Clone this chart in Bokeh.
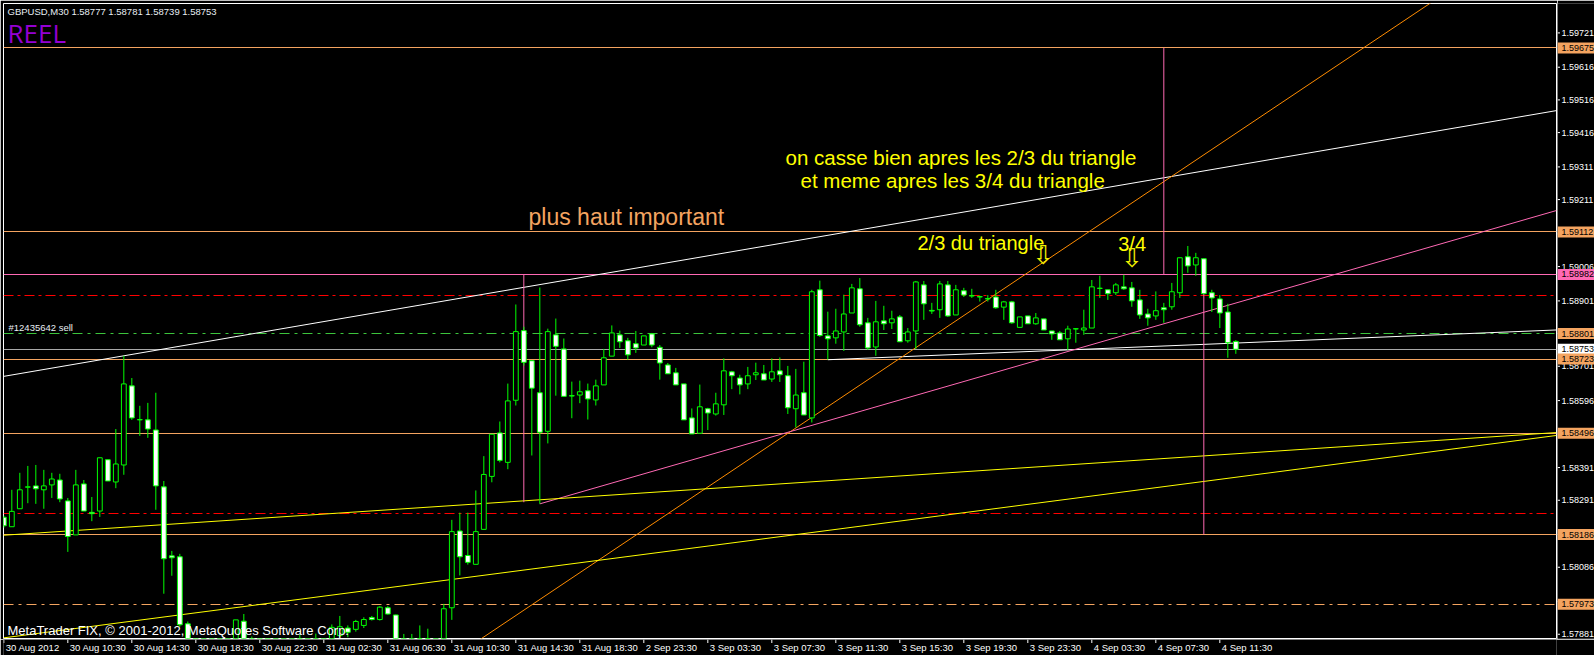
import numpy as np
from bokeh.plotting import figure
from bokeh.layouts import row, column
from bokeh.models import Range1d, ColumnDataSource, Label
from bokeh.core.properties import value
from bokeh.embed import file_html
from bokeh.resources import INLINE

# ---------------- GBPUSD M30 candles (bar 0 = 30 Aug 06:30) ----------------
open_ = [
    1.58239, 1.58210, 1.58265, 1.58331, 1.58335, 1.58323, 1.58338, 1.58353, 1.58289, 1.58185,
    1.58341, 1.58254, 1.58258, 1.58415, 1.58347, 1.58399, 1.58641, 1.58537, 1.58537, 1.58506,
    1.58332, 1.58121, 1.58118, 1.57913, 1.57846, 1.57816, 1.57831, 1.57800, 1.57825, 1.57855,
    1.57921, 1.57846, 1.57831, 1.57794, 1.57770, 1.57788, 1.57816, 1.57837, 1.57825, 1.57843,
    1.57858, 1.57849, 1.57877, 1.57900, 1.57896, 1.57908, 1.57932, 1.57926, 1.57962, 1.57940,
    1.57837, 1.57816, 1.57846, 1.57868, 1.57849, 1.57858, 1.57962, 1.58197, 1.58122, 1.58095,
    1.58202, 1.58364, 1.58497, 1.58407, 1.58597, 1.58810, 1.58718, 1.58620, 1.58502, 1.58797,
    1.58754, 1.58611, 1.58613, 1.58626, 1.58598, 1.58644, 1.58732, 1.58797, 1.58779, 1.58770,
    1.58766, 1.58800, 1.58759, 1.58705, 1.58681, 1.58647, 1.58543, 1.58496, 1.58571, 1.58555,
    1.58583, 1.58684, 1.58665, 1.58647, 1.58675, 1.58678, 1.58662, 1.58687, 1.58672, 1.58571,
    1.58620, 1.58543, 1.58935, 1.58794, 1.58788, 1.58806, 1.58864, 1.58938, 1.58834, 1.58760,
    1.58840, 1.58834, 1.58852, 1.58779, 1.58809, 1.58950, 1.58872, 1.58874, 1.58950, 1.58858,
    1.58932, 1.58917, 1.58914, 1.58908, 1.58913, 1.58882, 1.58898, 1.58820, 1.58855, 1.58831,
    1.58846, 1.58809, 1.58803, 1.58785, 1.58815, 1.58812, 1.58818, 1.58939, 1.58935, 1.58926,
    1.58944, 1.58941, 1.58904, 1.58861, 1.58855, 1.58880, 1.58883, 1.58926, 1.59036, 1.59011,
    1.59030, 1.58926, 1.58907, 1.58867, 1.58777,
]
high = [
    1.58244, 1.58323, 1.58375, 1.58396, 1.58399, 1.58384, 1.58375, 1.58372, 1.58298, 1.58384,
    1.58353, 1.58301, 1.58421, 1.58415, 1.58509, 1.58733, 1.58665, 1.58580, 1.58589, 1.58620,
    1.58350, 1.58136, 1.58127, 1.57920, 1.57862, 1.57846, 1.57852, 1.57837, 1.57862, 1.57925,
    1.57943, 1.57874, 1.57846, 1.57816, 1.57800, 1.57831, 1.57855, 1.57880, 1.57862, 1.57883,
    1.57865, 1.57911, 1.57937, 1.57908, 1.57925, 1.57933, 1.57937, 1.57967, 1.57967, 1.57941,
    1.57882, 1.57882, 1.57908, 1.57898, 1.57862, 1.57974, 1.58231, 1.58253, 1.58253, 1.58321,
    1.58426, 1.58493, 1.58532, 1.58648, 1.58890, 1.58822, 1.58718, 1.58942, 1.58816, 1.58847,
    1.58786, 1.58654, 1.58657, 1.58648, 1.58660, 1.58754, 1.58826, 1.58810, 1.58788, 1.58809,
    1.58794, 1.58803, 1.58766, 1.58711, 1.58696, 1.58647, 1.58572, 1.58645, 1.58574, 1.58620,
    1.58725, 1.58687, 1.58675, 1.58699, 1.58712, 1.58705, 1.58725, 1.58728, 1.58702, 1.58693,
    1.58715, 1.58935, 1.58963, 1.58868, 1.58877, 1.58920, 1.58953, 1.58971, 1.58849, 1.58901,
    1.58886, 1.58871, 1.58858, 1.58818, 1.58962, 1.58962, 1.58895, 1.58962, 1.58962, 1.58950,
    1.58941, 1.58938, 1.58917, 1.58919, 1.58935, 1.58901, 1.58901, 1.58852, 1.58855, 1.58864,
    1.58846, 1.58809, 1.58809, 1.58825, 1.58818, 1.58874, 1.58965, 1.58978, 1.58935, 1.58956,
    1.58981, 1.58959, 1.58935, 1.58877, 1.58930, 1.58895, 1.58956, 1.59033, 1.59069, 1.59048,
    1.59030, 1.58935, 1.58919, 1.58892, 1.58781,
]
low = [
    1.58207, 1.58210, 1.58265, 1.58282, 1.58280, 1.58265, 1.58298, 1.58285, 1.58133, 1.58185,
    1.58258, 1.58227, 1.58240, 1.58350, 1.58328, 1.58369, 1.58537, 1.58488, 1.58482, 1.58262,
    1.58005, 1.58060, 1.57904, 1.57831, 1.57800, 1.57785, 1.57776, 1.57770, 1.57806, 1.57846,
    1.57831, 1.57800, 1.57776, 1.57745, 1.57739, 1.57776, 1.57800, 1.57806, 1.57813, 1.57831,
    1.57825, 1.57840, 1.57871, 1.57872, 1.57889, 1.57900, 1.57923, 1.57923, 1.57941, 1.57825,
    1.57800, 1.57806, 1.57837, 1.57831, 1.57825, 1.57846, 1.57925, 1.58061, 1.58094, 1.58095,
    1.58202, 1.58346, 1.58407, 1.58386, 1.58581, 1.58703, 1.58428, 1.58280, 1.58465, 1.58611,
    1.58609, 1.58542, 1.58588, 1.58538, 1.58581, 1.58644, 1.58732, 1.58757, 1.58721, 1.58742,
    1.58766, 1.58759, 1.58660, 1.58678, 1.58644, 1.58537, 1.58494, 1.58496, 1.58506, 1.58550,
    1.58552, 1.58631, 1.58615, 1.58631, 1.58659, 1.58659, 1.58653, 1.58653, 1.58555, 1.58514,
    1.58552, 1.58529, 1.58791, 1.58721, 1.58770, 1.58748, 1.58864, 1.58822, 1.58751, 1.58733,
    1.58812, 1.58815, 1.58776, 1.58773, 1.58754, 1.58843, 1.58861, 1.58849, 1.58852, 1.58858,
    1.58913, 1.58910, 1.58899, 1.58899, 1.58877, 1.58843, 1.58831, 1.58820, 1.58831, 1.58828,
    1.58812, 1.58782, 1.58782, 1.58751, 1.58773, 1.58797, 1.58818, 1.58910, 1.58904, 1.58919,
    1.58935, 1.58883, 1.58846, 1.58825, 1.58843, 1.58834, 1.58874, 1.58910, 1.58987, 1.58978,
    1.58923, 1.58867, 1.58818, 1.58727, 1.58739,
]
close = [
    1.58213, 1.58257, 1.58323, 1.58332, 1.58326, 1.58335, 1.58356, 1.58295, 1.58180, 1.58338,
    1.58258, 1.58250, 1.58421, 1.58350, 1.58402, 1.58647, 1.58543, 1.58538, 1.58509, 1.58335,
    1.58112, 1.58115, 1.57910, 1.57846, 1.57816, 1.57831, 1.57800, 1.57825, 1.57855, 1.57925,
    1.57846, 1.57831, 1.57794, 1.57770, 1.57788, 1.57816, 1.57837, 1.57825, 1.57843, 1.57858,
    1.57849, 1.57902, 1.57904, 1.57887, 1.57920, 1.57926, 1.57926, 1.57964, 1.57943, 1.57837,
    1.57816, 1.57846, 1.57868, 1.57849, 1.57858, 1.57959, 1.58195, 1.58118, 1.58101, 1.58195,
    1.58370, 1.58493, 1.58413, 1.58595, 1.58807, 1.58713, 1.58634, 1.58499, 1.58807, 1.58762,
    1.58609, 1.58610, 1.58623, 1.58601, 1.58641, 1.58727, 1.58803, 1.58776, 1.58736, 1.58757,
    1.58794, 1.58766, 1.58711, 1.58678, 1.58644, 1.58537, 1.58494, 1.58577, 1.58558, 1.58586,
    1.58687, 1.58672, 1.58644, 1.58672, 1.58681, 1.58659, 1.58684, 1.58675, 1.58574, 1.58613,
    1.58552, 1.58929, 1.58795, 1.58785, 1.58809, 1.58861, 1.58941, 1.58828, 1.58757, 1.58837,
    1.58831, 1.58846, 1.58776, 1.58806, 1.58959, 1.58892, 1.58870, 1.58953, 1.58855, 1.58935,
    1.58919, 1.58916, 1.58913, 1.58907, 1.58880, 1.58898, 1.58834, 1.58852, 1.58831, 1.58849,
    1.58812, 1.58800, 1.58782, 1.58815, 1.58816, 1.58818, 1.58944, 1.58940, 1.58923, 1.58950,
    1.58938, 1.58901, 1.58858, 1.58849, 1.58871, 1.58874, 1.58929, 1.59033, 1.59008, 1.59033,
    1.58923, 1.58910, 1.58864, 1.58773, 1.58753,
]

# ---------------- scales ----------------
price_ticks = [1.59721, 1.59616, 1.59516, 1.59416, 1.59311, 1.59211, 1.59106, 1.59006,
               1.58901, 1.58801, 1.58701, 1.58596, 1.58496, 1.58391, 1.58291, 1.58186,
               1.58086, 1.57981, 1.57881]
date_tick_bars = [0, 8, 16, 24, 32, 40, 48, 56, 64, 72, 80, 88, 96, 104, 112, 120,
                  128, 136, 144, 152]
date_tick_labels = ["30 Aug 2012", "30 Aug 10:30", "30 Aug 14:30", "30 Aug 18:30",
                    "30 Aug 22:30", "31 Aug 02:30", "31 Aug 06:30", "31 Aug 10:30",
                    "31 Aug 14:30", "31 Aug 18:30", "2 Sep 23:30", "3 Sep 03:30",
                    "3 Sep 07:30", "3 Sep 11:30", "3 Sep 15:30", "3 Sep 19:30",
                    "3 Sep 23:30", "4 Sep 03:30", "4 Sep 07:30", "4 Sep 11:30"]

# ---------------- chart objects ----------------
orange_levels = [1.59675, 1.59112, 1.58723, 1.58496, 1.58186]
pink_level = 1.58982
red_levels = [1.58919, 1.58249]
order_level = 1.58801
bid_level = 1.58753
stop_level = 1.57973

# trend lines: two anchor points (bar, price)
white_upper = [(15, 1.58733), (194, 1.59483)]
white_lower = [(103, 1.58721), (194, 1.58812)]
orange_trend = [(99, 1.58512), (150, 1.59348)]
pink_trend = [(67, 1.58280), (194, 1.59177)]
yellow_upper = [(0, 1.58184), (194, 1.58498)]
yellow_lower = [(0, 1.57870), (194, 1.58489)]

# vertical markers: bar, from price, to price
vmark_bars = [65, 145, 150]
vmark_from = [1.58982, 1.59675, 1.59030]
vmark_to = [1.58285, 1.58982, 1.58186]

# price tags shown on the scale
tag_prices = [1.59675, 1.59112, 1.58982, 1.58801, 1.58753, 1.58723, 1.58496, 1.58186, 1.57973]

SAND = "#F4A460"
PINK = "#FF69B4"
LIME = "#00FF00"
FONT = "Liberation Sans"
tag_colours = [SAND, SAND, PINK, SAND, "white", SAND, SAND, SAND, SAND]

X_START, X_END = -0.04, 194.085
Y_START, Y_END = 1.57868, 1.59811
FRAME_H = 635          # plot-area height in pixels
SCALE_W = 37           # width of the price scale strip
TIME_H = 16            # height of the time scale strip


def no_grid(fig):
    for g in fig.xgrid + fig.ygrid:
        g.visible = False


# ---------------- main chart ----------------
p = figure(width=1557, height=639, title=None,
           x_range=Range1d(X_START, X_END), y_range=Range1d(Y_START, Y_END),
           x_axis_location=None, y_axis_location=None,
           toolbar_location=None, output_backend="svg",
           background_fill_color="black", border_fill_color="black",
           outline_line_color="white", outline_line_width=1,
           min_border_left=3, min_border_right=1, min_border_top=3,
           min_border_bottom=1)
no_grid(p)

# horizontal levels
p.hspan(y=orange_levels, line_color=SAND, line_width=1)
p.hspan(y=[pink_level], line_color=PINK, line_width=1)
p.hspan(y=[bid_level], line_color="#A8A8A8", line_width=1)
p.hspan(y=red_levels, line_color="#FF0000", line_width=1, line_dash="10 4 3 4")
p.hspan(y=[order_level], line_color="#3CC43C", line_width=1, line_dash="10 5 3 5")
p.hspan(y=[stop_level], line_color=SAND, line_width=1, line_dash="10 5 3 5")


def trend(anchors, left, right):
    (b0, p0), (b1, p1) = anchors
    slope = (p1 - p0) / (b1 - b0)
    return [left, right], [p0 + slope * (left - b0), p0 + slope * (right - b0)]


for anchors, colour, left in [(white_upper, "white", X_START),
                              (white_lower, "white", white_lower[0][0]),
                              (orange_trend, "#FF8C00", X_START),
                              (pink_trend, PINK, pink_trend[0][0]),
                              (yellow_upper, "#FFFF00", X_START),
                              (yellow_lower, "#FFFF00", X_START)]:
    xs, ys = trend(anchors, left, X_END)
    p.line(xs, ys, line_color=colour, line_width=1)

p.segment(x0=vmark_bars, y0=vmark_from, x1=vmark_bars, y1=vmark_to,
          line_color=PINK, line_width=1)

# candles
o = np.array(open_)
c = np.array(close)
src = ColumnDataSource(dict(
    x=np.arange(len(o)), high=high, low=low,
    top=np.maximum(o, c), bottom=np.minimum(o, c),
    fill=["white" if cc < oo else "black" for oo, cc in zip(o, c)]))
p.segment(x0="x", y0="low", x1="x", y1="high", source=src,
          line_color=LIME, line_width=1)
p.vbar(x="x", width=0.6, top="top", bottom="bottom", source=src,
       fill_color="fill", line_color=LIME, line_width=1)

# chart texts (vertically centred on their anchor)
p.add_layout(Label(x=X_START, y=Y_END, x_offset=4, y_offset=-8,
                   text="GBPUSD,M30  1.58777 1.58781 1.58739 1.58753",
                   text_color="#E8EEF4", text_font=FONT, text_font_size="9.5px",
                   text_baseline="middle"))
p.add_layout(Label(x=X_START, y=Y_END, x_offset=4, y_offset=-29, text="REEL",
                   text_color="#9400D3", text_font="Open Sans", text_font_size="26px",
                   text_baseline="middle"))
p.add_layout(Label(x=X_START, y=order_level, x_offset=5, y_offset=6,
                   text="#12435642 sell", text_color="#E8EEF4", text_font=FONT,
                   text_font_size="9.5px", text_baseline="middle"))
p.add_layout(Label(x=X_START, y=Y_START, x_offset=4, y_offset=8,
                   text="MetaTrader FIX, \u00a9 2001-2012, MetaQuotes Software Corp.",
                   text_color="white", text_font=FONT, text_font_size="13px",
                   text_baseline="middle"))

notes = [
    (97.71, 1.59340, "on casse bien apres les 2/3 du triangle", "#FFFF00", "20.5px"),
    (99.59, 1.59269, "et meme apres les 3/4 du triangle", "#FFFF00", "20.5px"),
    (65.59, 1.59159, "plus haut important", SAND, "23px"),
    (114.21, 1.59078, "2/3 du triangle", "#FFFF00", "20px"),
    (139.30, 1.59075, "3/4", "#FFFF00", "20px"),
]
for nx, ny, txt, col, size in notes:
    p.add_layout(Label(x=nx, y=ny, text=txt, text_color=col, text_font=FONT,
                       text_font_size=size, text_baseline="middle"))

for axb, ayp in [(129.9, 1.59040), (141.0, 1.59031)]:
    p.add_layout(Label(x=axb, y=ayp, text="\u21e9", text_color="#F0F000",
                       text_font="DejaVu Sans", text_font_size="26px",
                       text_align="center", text_baseline="middle"))

# ---------------- price scale strip ----------------
strip = figure(width=SCALE_W, height=639, title=None, x_range=Range1d(0, SCALE_W),
               y_range=p.y_range, x_axis_location=None, y_axis_location=None,
               toolbar_location=None, output_backend="svg",
               background_fill_color="black", border_fill_color="black",
               outline_line_color=None, min_border_left=0, min_border_right=0,
               min_border_top=3, min_border_bottom=1)
no_grid(strip)

strip.segment(x0=0, x1=2.5, y0=price_ticks, y1=price_ticks,
              line_color="white", line_width=1)
strip.text(x=4, y=price_ticks, text=[f"{t:.5f}" for t in price_ticks],
           text_color="white", text_font=value(FONT), text_font_size="9px",
           text_align="left", text_baseline="middle")

half_h = 5.5 * (Y_END - Y_START) / FRAME_H
strip.quad(left=0, right=SCALE_W, bottom=[t - half_h for t in tag_prices],
           top=[t + half_h for t in tag_prices], fill_color=tag_colours, line_color=None)
strip.text(x=4, y=tag_prices, text=[f"{t:.5f}" for t in tag_prices],
           text_color="black", text_font=value(FONT), text_font_size="9px",
           text_align="left", text_baseline="middle")

# ---------------- time scale strip ----------------
tstrip = figure(width=1594, height=TIME_H, title=None, x_range=p.x_range,
                y_range=Range1d(0, TIME_H), x_axis_location=None, y_axis_location=None,
                toolbar_location=None, output_backend="svg",
                background_fill_color="black", border_fill_color="black",
                outline_line_color=None, min_border_left=3, min_border_right=SCALE_W + 1,
                min_border_top=0, min_border_bottom=0)
no_grid(tstrip)
tstrip.segment(x0=date_tick_bars, x1=date_tick_bars, y0=TIME_H, y1=TIME_H - 3.5,
               line_color="white", line_width=1)
tstrip.text(x=date_tick_bars, y=TIME_H - 8, text=date_tick_labels, x_offset=2,
            text_color="white", text_font=value(FONT), text_font_size="9.5px",
            text_align="left", text_baseline="middle")

layout = column(row(p, strip), tstrip)
open("out.html", "w").write(file_html(layout, INLINE))
